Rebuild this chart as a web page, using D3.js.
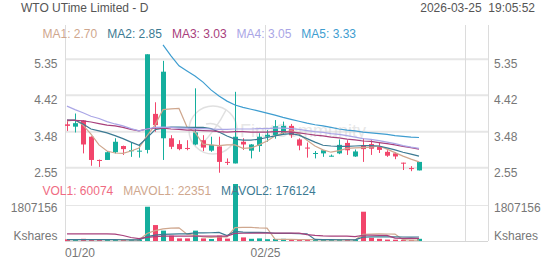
<!DOCTYPE html>
<html>
<head>
<meta charset="utf-8">
<script src="https://cdn.jsdelivr.net/npm/d3@7"></script>
<style>
body { margin: 0; background: #fff; }
svg { font-family: "Liberation Sans", Arial, sans-serif; display: block; }
</style>
</head>
<body>
<div id="chart-area"></div>
<script>
const W = 552, H = 265
const PLOT = { LEFT: 65, RIGHT: 488, TOP: 25, BOTTOM: 241 }

// ---- data ----
const title = "WTO UTime Limited - D"
const stamp = "2026-03-25  19:05:52"

const opens  = [3.67,3.61,3.77,3.35,2.75,2.75,2.95,3.11,2.98,2.97,3.01,3.94,3.31,3.31,3.16,3.06,3.15,3.26,2.99,3.10,2.70,2.66,3.22,2.99,3.11,3.35,3.39,3.44,3.63,3.28,3.07,2.92,2.92,2.85,2.92,3.19,2.84,3.13,3.16,3.10,2.96,2.92,2.68,2.54,2.48]
const highs  = [3.76,3.95,3.78,3.36,2.76,2.98,3.31,3.12,3.19,3.14,5.48,4.24,5.31,3.39,3.26,3.26,4.60,3.39,3.35,3.35,2.79,4.51,3.31,3.16,3.44,3.52,3.78,3.74,3.68,3.31,3.20,2.98,3.01,2.89,3.28,3.26,3.02,3.31,3.26,3.19,3.00,2.95,2.68,2.59,2.70]
const lows   = [3.50,3.46,2.92,2.60,2.57,2.75,2.92,2.88,2.83,2.81,2.92,3.48,2.75,3.03,3.00,3.00,3.13,2.98,2.96,2.42,2.62,2.66,3.01,2.79,2.96,3.22,3.30,3.40,3.32,3.00,2.81,2.79,2.83,2.84,2.90,2.88,2.83,2.70,2.88,2.93,2.83,2.77,2.49,2.46,2.48]
const closes = [3.63,3.70,3.15,2.75,2.73,2.95,3.22,3.03,3.00,2.99,5.48,3.65,5.03,3.09,3.03,3.04,3.46,3.07,3.14,2.70,2.68,3.35,3.15,3.15,3.35,3.40,3.62,3.63,3.39,3.12,3.05,2.93,3.00,2.86,3.14,3.00,2.97,3.03,3.04,3.01,2.86,2.84,2.67,2.53,2.70]

const ma1 = [3.76,3.78,3.65,3.42,3.14,2.98,2.93,2.92,2.98,3.06,3.37,3.65,4.05,4.07,4.08,3.60,3.47,3.16,3.14,3.12,3.14,3.14,3.05,3.06,3.14,3.24,3.37,3.45,3.51,3.42,3.26,3.11,3.01,2.95,2.99,3.05,3.06,3.07,3.08,3.11,3.03,2.94,2.85,2.77,2.70]
const ma2 = [3.78,3.78,3.68,3.55,3.50,3.45,3.38,3.30,3.21,3.13,3.32,3.53,3.57,3.60,3.60,3.59,3.59,3.59,3.56,3.47,3.37,3.29,3.26,3.26,3.29,3.33,3.37,3.41,3.43,3.39,3.30,3.21,3.13,3.11,3.10,3.10,3.11,3.12,3.12,3.11,3.06,3.01,2.95,2.90,2.85]
const ma3 = [3.78,3.77,3.76,3.73,3.69,3.65,3.63,3.59,3.54,3.50,3.55,3.57,3.57,3.55,3.54,3.52,3.52,3.51,3.50,3.48,3.47,3.48,3.48,3.47,3.47,3.47,3.48,3.48,3.47,3.45,3.42,3.39,3.37,3.34,3.32,3.29,3.27,3.24,3.23,3.20,3.17,3.14,3.10,3.07,3.03]
const ma4 = [4.14,4.05,3.97,3.88,3.82,3.74,3.68,3.63,3.56,3.50,3.55,3.59,3.60,3.59,3.57,3.57,3.56,3.56,3.55,3.54,3.54,3.55,3.55,3.55,3.56,3.56,3.57,3.57,3.56,3.54,3.51,3.48,3.46,3.43,3.41,3.38,3.34,3.30,3.28,3.25,3.21,3.17,3.12,3.08,3.05]
const ma5 = [null,null,null,null,null,null,null,null,null,null,null,null,5.72,5.44,5.18,5.05,4.92,4.76,4.56,4.40,4.27,4.17,4.11,4.06,4.01,3.96,3.91,3.85,3.80,3.75,3.70,3.66,3.63,3.59,3.55,3.52,3.50,3.47,3.45,3.43,3.41,3.38,3.36,3.34,3.33]

const volumes = [35000,40000,60000,50000,20000,25000,40000,20000,15000,15000,1670000,750000,470000,220000,80000,80000,470000,80000,50000,220000,70000,2810000,130000,60000,80000,40000,50000,60000,40000,50000,30000,20000,30000,15000,40000,40000,20000,1420000,110000,60000,20000,15000,10000,7000,60074]
const mavol1 = [40000,40000,45000,45000,41000,39000,39000,31000,24000,23000,352000,494000,584000,625000,638000,320000,264000,186000,152000,180000,178000,646000,656000,658000,630000,624000,72000,58000,54000,48000,46000,40000,34000,29000,27000,29000,29000,307000,326000,330000,326000,325000,43000,22000,22351]
const mavol2 = [48000,47000,47000,46000,44000,42000,40000,38000,35000,32000,196000,267000,308000,325000,331000,336000,379000,385000,389000,409000,249000,455000,421000,405000,405000,401000,359000,357000,356000,339000,335000,56000,46000,42000,38000,38000,35000,171000,178000,179000,178000,177000,175000,174000,176124]
const mavol3 = [335000,335000,336000,336000,335000,334000,320000,250000,150000,90000,160000,195000,215000,222000,222000,222000,222000,220000,218000,221000,222000,361000,364000,365000,368000,369000,369000,371000,372000,374000,292000,256000,234000,223000,221000,219000,197000,264000,267000,259000,256000,117000,111000,108000,107000]

const maNames = ["MA1", "MA2", "MA3", "MA4", "MA5"]
const maLast = ["2.70", "2.85", "3.03", "3.05", "3.33"]
const volNames = ["VOL1", "MAVOL1", "MAVOL2"]
const volLast = ["60074", "22351", "176124"]

const priceTicks = [2.55, 3.48, 4.42, 5.35]
const volTicks = [1807156]
const dateTickIndex = [0, 25, 50]
const dateTickLabels = ["01/20", "02/25", ""]

// ---- colours ----
const UP = "#14ae9d", DOWN = "#f2456b"
const maColors = ["#cfa78e", "#3c7a93", "#a8407c", "#aaa6e6", "#3e9dd0"]
const volColors = ["#f06b82", "#cfa78e", "#3c7a93", "#a8407c"]
const GRID = "#e6e6e6", TXT = "#777"

const svg = d3.select("#chart-area").append("svg")
	.attr("width", W)
	.attr("height", H)

// scales
const x = d3.scaleBand().domain(d3.range(53)).range([63, 487])
const cx = i => x(i) + x.bandwidth() / 2
const y = d3.scaleLinear().domain([2.55, 5.35]).range([167.7, 59.3])
const yv = d3.scaleLinear().domain([0, 1807156]).range([PLOT.BOTTOM, 205])

// header
svg.append("text").attr("x", 21).attr("y", 12)
	.attr("font-size", 12).attr("fill", "#555").text(title)
svg.append("text").attr("x", 535).attr("y", 12)
	.attr("font-size", 12).attr("fill", "#555")
	.attr("text-anchor", "end").attr("xml:space", "preserve").text(stamp)

// grid
const grid = svg.append("g")
grid.selectAll(".hgrid").data(priceTicks).join("line")
	.attr("x1", PLOT.LEFT).attr("x2", PLOT.RIGHT)
	.attr("y1", d => y(d)).attr("y2", d => y(d))
	.attr("stroke", GRID).attr("stroke-width", 2)
grid.selectAll(".vgrid").data(volTicks).join("line")
	.attr("x1", PLOT.LEFT).attr("x2", PLOT.RIGHT)
	.attr("y1", d => Math.round(yv(d)) + 0.5).attr("y2", d => Math.round(yv(d)) + 0.5)
	.attr("stroke", GRID)
grid.selectAll(".xgrid").data(dateTickIndex).join("line")
	.attr("x1", d => x(d) + 2.5).attr("x2", d => x(d) + 2.5)
	.attr("y1", PLOT.TOP).attr("y2", PLOT.BOTTOM)
	.attr("stroke", "#dcdcdc")
grid.append("line")
	.attr("x1", PLOT.RIGHT + 0.5).attr("x2", PLOT.RIGHT + 0.5)
	.attr("y1", PLOT.TOP).attr("y2", PLOT.BOTTOM)
	.attr("stroke", "#dcdcdc")
grid.append("line")
	.attr("x1", PLOT.LEFT).attr("x2", PLOT.RIGHT)
	.attr("y1", PLOT.BOTTOM + 0.5).attr("y2", PLOT.BOTTOM + 0.5)
	.attr("stroke", "#d6d6d6")

// watermark
const wm = svg.append("g").attr("opacity", 0.55)
wm.append("circle").attr("cx", 213).attr("cy", 130).attr("r", 24)
	.attr("fill", "none").attr("stroke", "#c8c8c8").attr("stroke-width", 1.5)
wm.append("path").attr("d", "M200,146 C214,132 222,118 226,110 M206,124 C214,122 222,126 224,134")
	.attr("fill", "none").attr("stroke", "#c8c8c8").attr("stroke-width", 1.5)
wm.append("text").attr("x", 240).attr("y", 137)
	.attr("font-size", 18).attr("fill", "#d4d4d4").text("FirstCommunity")

// axis labels
const axes = svg.append("g").attr("font-size", 12).attr("fill", TXT)
axes.selectAll(".yl").data(priceTicks).join("text")
	.attr("x", 57.5).attr("y", d => y(d) + 9).attr("text-anchor", "end")
	.text(d => d3.format(".2f")(d))
axes.selectAll(".yr").data(priceTicks).join("text")
	.attr("x", 494).attr("y", d => y(d) + 9)
	.text(d => d3.format(".2f")(d))
axes.selectAll(".vl").data(volTicks).join("text")
	.attr("x", 57.5).attr("y", d => yv(d) + 6.5).attr("text-anchor", "end").text(d => d)
axes.selectAll(".vr").data(volTicks).join("text")
	.attr("x", 494).attr("y", d => yv(d) + 6.5).text(d => d)
axes.append("text").attr("x", 57.5).attr("y", 240).attr("text-anchor", "end").text("Kshares")
axes.append("text").attr("x", 494).attr("y", 240).text("Kshares")
axes.selectAll(".xl").data(dateTickIndex).join("text")
	.attr("y", 256.5)
	.text((d, i) => dateTickLabels[i])
	.attr("x", function (d) {
		const w = this.getComputedTextLength()
		return Math.max(PLOT.LEFT, x(d) + 2.5 - w / 2)
	})

// candles
const candles = svg.append("g").selectAll("g").data(closes).join("g")
	.attr("fill", (d, i) => d >= opens[i] ? UP : DOWN)
	.attr("stroke", (d, i) => d >= opens[i] ? UP : DOWN)
candles.append("line")
	.attr("x1", (d, i) => Math.floor(cx(i)) + 0.5).attr("x2", (d, i) => Math.floor(cx(i)) + 0.5)
	.attr("y1", (d, i) => y(highs[i])).attr("y2", (d, i) => y(lows[i]))
candles.append("rect")
	.attr("stroke", "none")
	.attr("x", (d, i) => Math.floor(cx(i)) - 2)
	.attr("width", 5)
	.attr("y", (d, i) => y(Math.max(d, opens[i])))
	.attr("height", (d, i) => Math.max(1, Math.abs(y(d) - y(opens[i]))))

// moving averages
const maLine = d3.line()
	.defined(d => d != null)
	.x((d, i) => cx(i))
	.y(d => y(d))
const maData = [ma1, ma2, ma3, ma4, ma5]
svg.append("g").selectAll("path").data(maData).join("path")
	.attr("d", maLine)
	.attr("fill", "none")
	.attr("stroke", (d, i) => maColors[i])
	.attr("stroke-width", 1.2)

// volume bars
svg.append("g").selectAll("rect").data(volumes).join("rect")
	.attr("x", (d, i) => Math.floor(cx(i)) - 2)
	.attr("width", 5)
	.attr("y", d => yv(d) - 1)
	.attr("height", d => PLOT.BOTTOM + 1 - yv(d))
	.attr("fill", (d, i) => closes[i] >= opens[i] ? UP : DOWN)

const volLine = d3.line()
	.x((d, i) => cx(i))
	.y(d => yv(d) - 0.5)
svg.append("g").selectAll("path").data([mavol1, mavol2, mavol3]).join("path")
	.attr("d", volLine)
	.attr("fill", "none")
	.attr("stroke", (d, i) => volColors[i + 1])
	.attr("stroke-width", 1.2)

// legends
function legend(names, values, colors, x0, yBase) {
	let xPos = x0
	names.forEach((n, i) => {
		const t = svg.append("text")
			.attr("x", xPos).attr("y", yBase)
			.attr("font-size", 12).attr("fill", colors[i])
			.text(`${n}: ${values[i]}`)
		xPos += t.node().getComputedTextLength() + 10
	})
}
legend(maNames, maLast, maColors, 42.5, 38)
legend(volNames, volLast, volColors, 42.5, 195)
</script>
</body>
</html>
